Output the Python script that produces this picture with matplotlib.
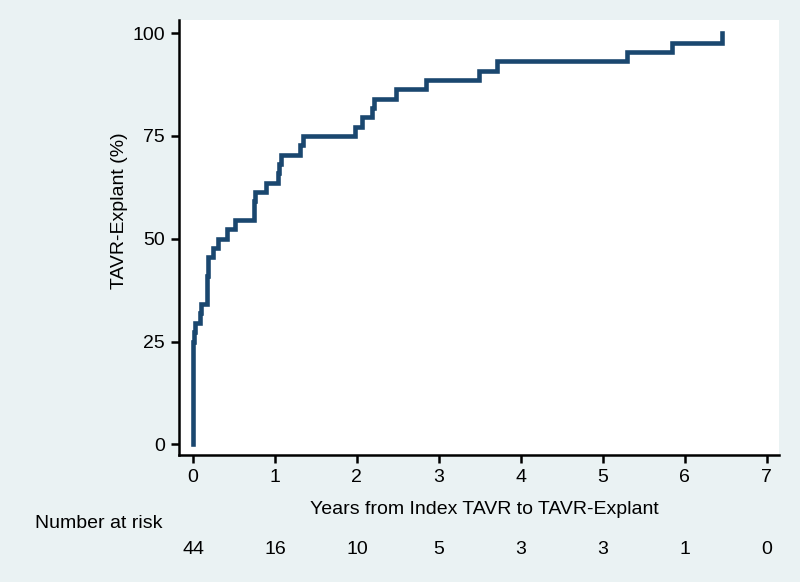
import numpy as np
import matplotlib
matplotlib.use("Agg")
import matplotlib.pyplot as plt

plt.rcParams['font.family'] = ['Liberation Sans', 'DejaVu Sans']

# event times (years from index TAVR), one per patient, no censoring
event_times = [0.0] * 11 + [
    0.012, 0.025, 0.09, 0.10, 0.168, 0.172, 0.176, 0.18, 0.187,
    0.248, 0.309, 0.41, 0.51, 0.74, 0.75, 0.76, 0.89,
    1.04, 1.05, 1.07, 1.305, 1.346, 1.977,
    2.06, 2.19, 2.21, 2.48, 2.84, 3.49, 3.71,
    5.30, 5.85, 6.46,
]
risk_times = [0, 1, 2, 3, 4, 5, 6, 7]
at_risk = [44, 16, 10, 5, 3, 3, 1, 0]
yticks = [0, 25, 50, 75, 100]

bg = '#eaf2f3'
navy = '#1a476f'

# cumulative incidence (1 - KM) from the event times
t = np.array(sorted(event_times))
uniq, counts = np.unique(t, return_counts=True)
n = len(t)
surv = 1.0
xs, ys = [0.0], [0.0]
for ti, d in zip(uniq, counts):
    surv *= 1 - d / n
    n -= d
    xs.append(ti)
    ys.append((1 - surv) * 100)

fig = plt.figure(figsize=(8, 5.82), dpi=100, facecolor=bg)
ax = fig.add_axes([179 / 800, 1 - 455 / 582, 600 / 800, 435 / 582])
ax.set_facecolor('white')

ax.step(xs, ys, where='post', color=navy, lw=3.3, solid_joinstyle='miter')

ax.set_xlim(-0.171, 7.15)
ax.set_ylim(-2.6, 103.2)
ax.set_xticks(risk_times)
ax.set_yticks(yticks)
ax.tick_params(axis='both', direction='out', length=6, width=1.8, labelsize=14, pad=4)
ax.spines['top'].set_visible(False)
ax.spines['right'].set_visible(False)
ax.spines['left'].set_linewidth(1.8)
ax.spines['bottom'].set_linewidth(1.8)

fig.text(484 / 800, 1 - 510 / 582, 'Years from Index TAVR to TAVR-Explant',
         ha='center', va='center', fontsize=14)
fig.text(120 / 800, 1 - 211 / 582, 'TAVR-Explant (%)', rotation=90,
         ha='center', va='center', fontsize=14)

fig.text(99 / 800, 1 - 523 / 582, 'Number at risk', ha='center', va='center', fontsize=14)
for xt, nr in zip(risk_times, at_risk):
    px = ax.transData.transform((xt, 0))[0] / fig.bbox.width
    fig.text(px, 1 - 549 / 582, str(nr), ha='center', va='center', fontsize=14)

fig.savefig('out.png', dpi=100, facecolor=bg)
